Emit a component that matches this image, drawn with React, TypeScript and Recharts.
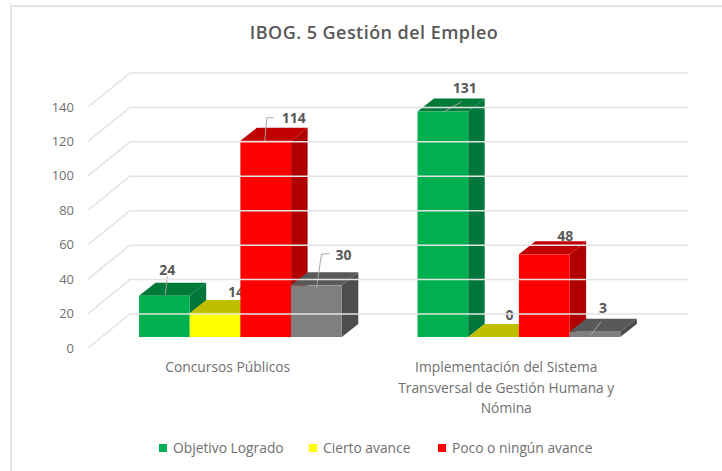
import { Bar, BarChart, Legend, XAxis, YAxis } from "recharts"

const categories = ["Concursos Públicos", "Implementación del Sistema Transversal de Gestión Humana y Nómina"]
const objetivoLogrado = [24, 131]
const ciertoAvance = [14, 0]
const pocoAvance = [114, 48]
const sinCategoria = [30, 3]
const yTicks = [0, 20, 40, 60, 80, 100, 120, 140]

const data = categories.map((name, i) => ({
  name,
  objetivo: objetivoLogrado[i],
  cierto: ciertoAvance[i],
  poco: pocoAvance[i],
  otro: sinCategoria[i],
}))

const TEXT = "#707070"
const FONT = "'Open Sans', sans-serif"
const DEPTH_X = 16.5
const DEPTH_Y = 13

// label position relative to the bar's top centre, one entry per category
const greenLabels = [{ dx: 3, dy: -26, leader: [[1, -1], [3, -19]] }, { dx: 22, dy: -24, leader: [[0, 1], [19, -10]] }]
const yellowLabels = [{ dx: 21, dy: -21 }, { dx: 16, dy: -23, halo: true }]
const redLabels = [
  { dx: 28, dy: -23, leader: [[-1, 1], [1, -23], [8, -23]] },
  { dx: 21, dy: -19 },
]
const grayLabels = [
  { dx: 27, dy: -31, leader: [[0, 3], [5, -31], [13, -32]] },
  { dx: 8, dy: -24, leader: [[-4, 3], [6, -10]] },
]

function Bar3D(props: any) {
  const { x, y, width, height, index, value, front, top, side, labels } = props
  const right = x + width
  const bottom = y + height
  const label = labels[index]
  const cx = x + width / 2
  return (
    <g>
      <path d={`M${x} ${y}L${x + DEPTH_X} ${y - DEPTH_Y}H${right + DEPTH_X}L${right} ${y}Z`} fill={top} />
      <path d={`M${right} ${y}L${right + DEPTH_X} ${y - DEPTH_Y}V${bottom - DEPTH_Y}L${right} ${bottom}Z`} fill={side} />
      <rect x={x} y={y} width={width} height={height} fill={front} />
      {label.leader && (
        <polyline
          points={label.leader.map((p: number[]) => `${cx + p[0]},${y + p[1]}`).join(" ")}
          fill="none"
          stroke="#a6a6a6"
          strokeWidth={1}
        />
      )}
      <text
        x={cx + label.dx}
        y={y + label.dy}
        textAnchor="middle"
        dominantBaseline="central"
        fontFamily={FONT}
        fontSize={14}
        fontWeight={700}
        fill="#595959"
        stroke={label.halo ? "#fff" : "none"}
        strokeWidth={label.halo ? 3 : 0}
        paintOrder="stroke"
      >
        {value}
      </text>
    </g>
  )
}

// y tick draws the number plus the slanted floor line and the back wall line
function WallTick({ y, payload }: any) {
  return (
    <g>
      <polyline
        points={`88,${y + 11} 130,${y - 23} 688,${y - 23}`}
        fill="none"
        stroke="#e3e3e3"
        strokeWidth={1.5}
      />
      <text x={74} y={y + 10.5} textAnchor="end" dominantBaseline="central" fontFamily={FONT} fontSize={13} fill={TEXT}>
        {payload.value}
      </text>
    </g>
  )
}

function wrap(label: string, maxChars: number) {
  const lines: string[] = []
  let line = ""
  label.split(" ").forEach((word) => {
    const next = line ? line + " " + word : word
    if (next.length > maxChars) {
      lines.push(line)
      line = word
    } else {
      line = next
    }
  })
  lines.push(line)
  return lines
}

function CategoryTick({ x, payload }: any) {
  return (
    <text textAnchor="middle" fontFamily={FONT} fontSize={13.8} fill={TEXT}>
      {wrap(payload.value, 31).map((line, i) => (
        <tspan key={i} x={x - 12.5} y={372 + i * 20.5}>
          {line}
        </tspan>
      ))}
    </text>
  )
}

function LegendRow({ payload }: any) {
  const xs = [159, 309, 438]
  return (
    <div style={{ position: "relative", height: 20 }}>
      {payload
        .filter((item: any) => item.type !== "none")
        .map((item: any, i: number) => (
          <div
            key={item.value}
            style={{ position: "absolute", left: xs[i], top: 0, display: "flex", alignItems: "center", whiteSpace: "nowrap" }}
          >
            <span style={{ width: 8, height: 8, background: item.color, marginRight: 6 }} />
            <span style={{ fontFamily: FONT, fontSize: 13.8, color: TEXT }}>{item.value}</span>
          </div>
        ))}
    </div>
  )
}

export default function App() {
  return (
    <div style={{ position: "absolute", left: 0, top: 0, width: 722, height: 471, background: "#fff" }}>
      <BarChart
        width={722}
        height={471}
        data={data}
        margin={{ top: 96, right: 64, bottom: 0, left: 0 }}
        barSize={50.7}
        barGap={0}
      >
        <path d="M11 471V6H722" fill="none" stroke="#e4e4e4" strokeWidth={2} />
        <text
          x={374}
          y={32}
          textAnchor="middle"
          dominantBaseline="central"
          fontFamily={FONT}
          fontSize={18}
          fontWeight={600}
          letterSpacing={0.45}
          fill="#595959"
        >
          IBOG. 5 Gestión del Empleo
        </text>
        <YAxis width={101} domain={[0, 140]} ticks={yTicks} axisLine={false} tickLine={false} tick={<WallTick />} />
        <XAxis dataKey="name" height={114} axisLine={false} tickLine={false} tick={<CategoryTick />} interval={0} />
        <Legend
          content={<LegendRow />}
          itemSorter={null}
          wrapperStyle={{ position: "absolute", left: 0, top: 438, width: 722, height: 20 }}
        />
        <Bar
          dataKey="objetivo"
          name="Objetivo Logrado"
          fill="#00B050"
          isAnimationActive={false}
          shape={<Bar3D front="#00B050" top="#007A38" side="#00763A" labels={greenLabels} />}
        />
        <Bar
          dataKey="cierto"
          name="Cierto avance"
          fill="#FFFF00"
          isAnimationActive={false}
          shape={<Bar3D front="#FFFF00" top="#BFBF00" side="#B3B300" labels={yellowLabels} />}
        />
        <Bar
          dataKey="poco"
          name="Poco o ningún avance"
          fill="#FF0000"
          isAnimationActive={false}
          shape={<Bar3D front="#FF0000" top="#C00000" side="#B00000" labels={redLabels} />}
        />
        <Bar
          dataKey="otro"
          name="Otro"
          fill="#7F7F7F"
          legendType="none"
          isAnimationActive={false}
          shape={<Bar3D front="#7F7F7F" top="#595959" side="#4D4D4D" labels={grayLabels} />}
        />
      </BarChart>
    </div>
  )
}
